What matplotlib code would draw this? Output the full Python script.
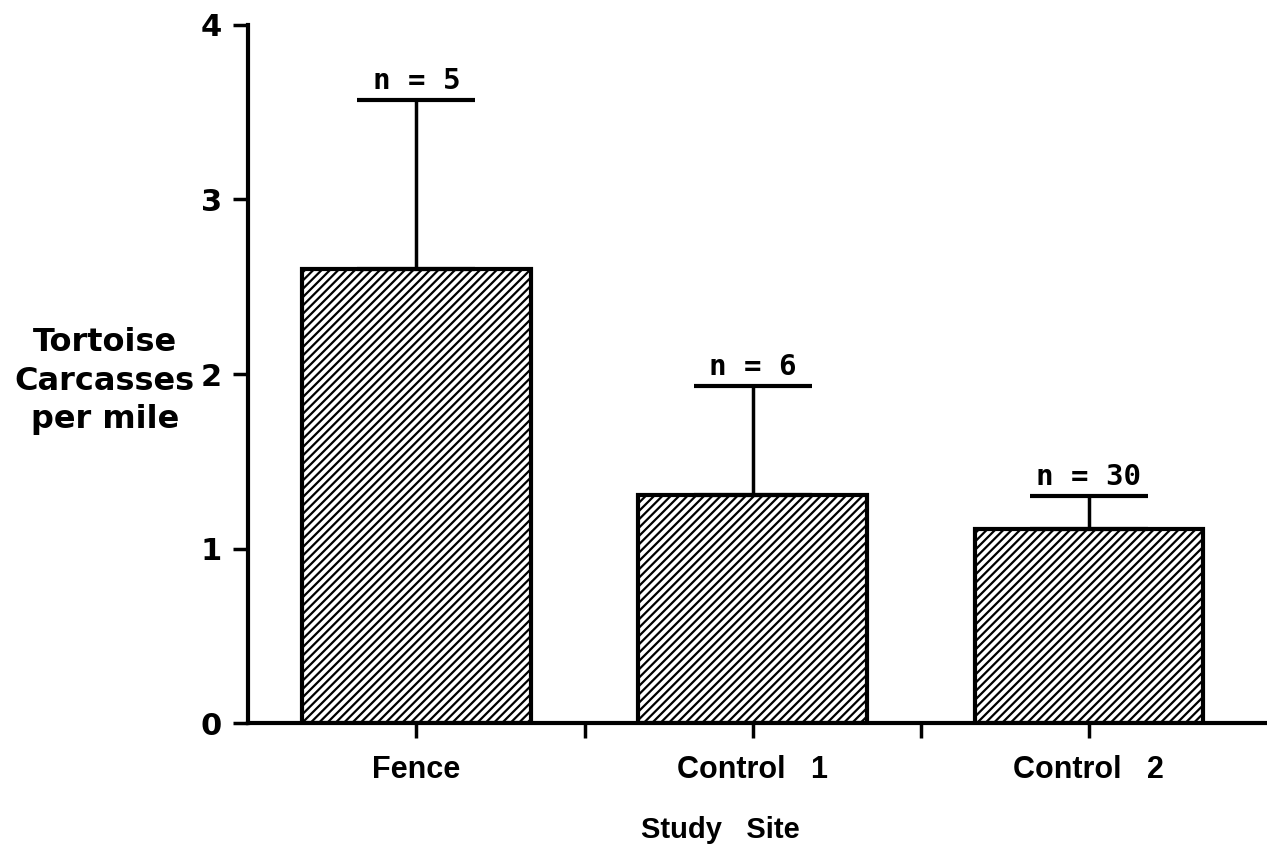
import numpy as np
import matplotlib.pyplot as plt

# Data
sites = ["Fence", "Control   1", "Control   2"]
means = [2.60, 1.31, 1.11]
upper_err = [0.97, 0.62, 0.19]
n_labels = ["n = 5", "n = 6", "n = 30"]
y_ticks = [0, 1, 2, 3, 4]

plt.rcParams['font.family'] = ['Liberation Sans', 'DejaVu Sans']
plt.rcParams['hatch.linewidth'] = 1.6

fig = plt.figure(figsize=(12.67, 8.52), dpi=100)
ax = fig.add_axes([0.196, 0.151, 0.804, 0.820])

x = np.arange(len(sites))
ax.bar(x, means, width=0.68, color='white', edgecolor='black',
       linewidth=3, hatch='////')

# only the upper half of the error bars
ax.errorbar(x, means, yerr=[np.zeros(len(means)), upper_err], fmt='none',
            ecolor='black', elinewidth=2.5, capsize=42.5, capthick=3)

for xi, m, e, lab in zip(x, means, upper_err, n_labels):
    ax.annotate(lab, (xi, m + e), xytext=(0, 8), textcoords='offset points',
                ha='center', va='baseline', fontsize=21, fontweight='bold',
                family=['DejaVu Sans Mono'])

ax.set_xlim(-0.5, 2.53)
ax.set_ylim(0, 4)
ax.set_yticks(y_ticks)
ax.set_yticklabels([str(t) for t in y_ticks], fontsize=22, fontweight='bold',
                   family=['DejaVu Sans'])
ax.set_xticks(x)
ax.set_xticks([0.5, 1.5], minor=True)
ax.set_xticklabels(sites, fontsize=22, fontweight='bold')

ax.tick_params(axis='y', direction='out', length=11, width=2.5, pad=8)
ax.tick_params(axis='x', which='both', direction='out', length=11, width=2.5, pad=12)

for side in ['top', 'right']:
    ax.spines[side].set_visible(False)
for side in ['left', 'bottom']:
    ax.spines[side].set_linewidth(3)

ax.set_ylabel("Tortoise\nCarcasses\nper mile", rotation=0, fontsize=23,
              fontweight='bold', ha='center', va='center', linespacing=1.3,
              family=['DejaVu Sans'])
ax.yaxis.set_label_coords(-0.141, 0.49)
ax.set_xlabel("Study   Site", fontsize=21, fontweight='bold', va='center')
ax.xaxis.set_label_coords(0.463, -0.153)

fig.savefig("out.png", dpi=100)
